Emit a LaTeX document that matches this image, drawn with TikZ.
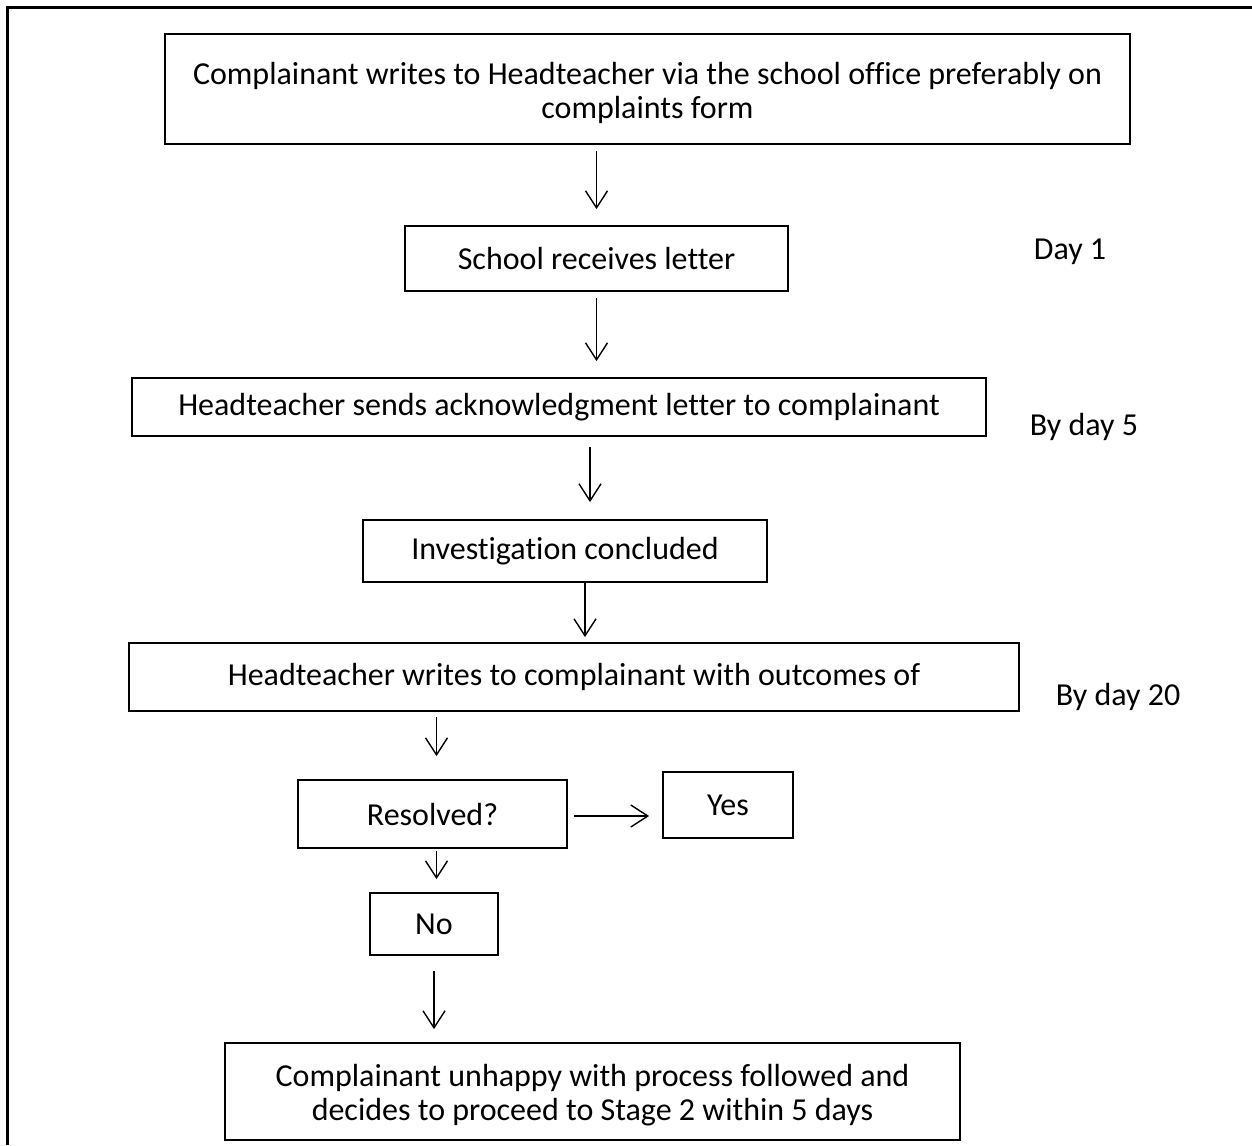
\documentclass[tikz,border=0pt]{standalone}
\usepackage{fontspec}
\setmainfont{Carlito}[Ligatures=NoCommon]
\usetikzlibrary{arrows.meta}

\begin{document}
\begin{tikzpicture}[x=1pt,y=-1pt,
	font=\fontsize{32}{34}\selectfont,
	box/.style={draw,line width=1.8pt,inner sep=0pt,align=center},
	arr/.style={line width=1.4pt,-{Straight Barb[length=17pt,width=22pt,line width=1.4pt]}}
	]
	\useasboundingbox (0,0) rectangle (1252,1145);
	\draw[line width=3pt] (7,1145) -- (7,8) -- (1252,8);
	\node[box,minimum width=965pt,minimum height=110pt] (writes) at (647.5,89)
		{\rule{0pt}{30pt}Complainant writes to Headteacher via the school office preferably on\\complaints form};
	\node[box,minimum width=383pt,minimum height=65pt] (receives) at (596.5,258.5) {School receives letter};
	\node[box,minimum width=854pt,minimum height=58pt] (acknowledge) at (559,407)
		{Headteacher sends acknowledgment letter to complainant};
	\node[box,minimum width=404pt,minimum height=62pt] (investigation) at (565,551) {Investigation concluded};
	\node[box,minimum width=890pt,minimum height=68pt] (outcomes) at (574,677)
		{Headteacher writes to complainant with outcomes of};
	\node[box,minimum width=269pt,minimum height=68pt] (resolved) at (432.5,814) {Resolved?};
	\node[box,minimum width=130pt,minimum height=66pt] (yes) at (728,805) {Yes};
	\node[box,minimum width=128pt,minimum height=62pt] (no) at (434,924) {No};
	\node[box,minimum width=735pt,minimum height=97pt] (stagetwo) at (592.5,1091.5)
		{\rule{0pt}{30pt}Complainant unhappy with process followed and\\decides to proceed to Stage 2 within 5 days};
	\node (day1) at (1070,252) {Day 1};
	\node (day5) at (1084,427) {By day 5};
	\node (day20) at (1118,697) {By day 20};
	\draw[arr,shorten <=6pt,shorten >=16pt] (receives |- writes.south) -- (receives.north);
	\draw[arr,shorten <=6pt,shorten >=16pt] (receives.south) -- (receives.south |- acknowledge.north);
	\draw[arr,shorten <=10pt,shorten >=17pt] ([xshift=25pt]investigation.north |- acknowledge.south) -- ([xshift=25pt]investigation.north);
	\draw[arr,shorten <=-2pt,shorten >=5pt] ([xshift=20pt]investigation.south) -- ([xshift=20pt]investigation.south |- outcomes.north);
	\draw[arr,shorten <=5pt,shorten >=23pt] ([xshift=4pt]resolved.north |- outcomes.south) -- ([xshift=4pt]resolved.north);
	\draw[arr,shorten <=6pt,shorten >=13pt] ([yshift=-2pt]resolved.east) -- ([yshift=-2pt]resolved.east -| yes.west);
	\draw[arr,shorten <=2pt,shorten >=13pt] ([xshift=4pt]resolved.south) -- ([xshift=4pt]resolved.south |- no.north);
	\draw[arr,shorten <=15pt,shorten >=13pt] (no.south) -- (no.south |- stagetwo.north);
\end{tikzpicture}
\end{document}
